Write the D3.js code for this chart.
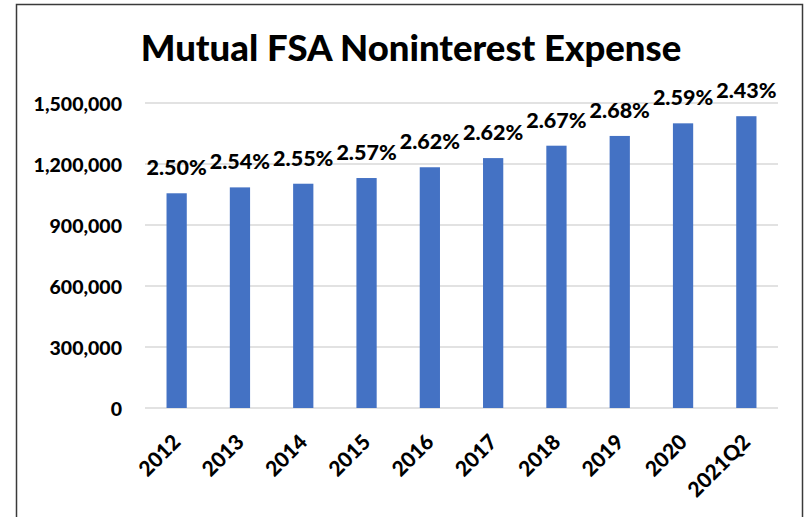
<!DOCTYPE html>
<html>
<head>
<meta charset="utf-8">
<script src="https://cdn.jsdelivr.net/npm/d3@7"></script>
<style>
  body { margin: 0; background: #fff; }
  text { font-family: Lato, 'Open Sans', sans-serif; font-weight: 900; fill: #000; }
</style>
</head>
<body>
<div class="chart"></div>
<script>
const years = ['2012', '2013', '2014', '2015', '2016', '2017', '2018', '2019', '2020', '2021Q2']
const expense = [1056000, 1085000, 1103000, 1131000, 1184000, 1229000, 1290000, 1338000, 1400000, 1435000]
const ratio = ['2.50%', '2.54%', '2.55%', '2.57%', '2.62%', '2.62%', '2.67%', '2.68%', '2.59%', '2.43%']
const yTicks = [0, 300000, 600000, 900000, 1200000, 1500000]

const W = 808, H = 517
const margin = ({ top: 103, right: 30, bottom: 109, left: 145 })
const width = 778 - margin.left
const height = 408 - margin.top

const root = d3.select('.chart')
    .append('svg')
    .attr('width', W)
    .attr('height', H)

// outer frame
root.append('rect')
    .attr('x', 16.5)
    .attr('y', 4.5)
    .attr('width', 786)
    .attr('height', 530)
    .attr('fill', 'none')
    .attr('stroke', '#3a3a3a')
    .attr('stroke-width', 1.5)

root.append('text')
    .attr('x', 411)
    .attr('y', 61)
    .attr('text-anchor', 'middle')
    .style('font-size', '36.5px')
    .text('Mutual FSA Noninterest Expense')

const svg = root.append('g')
    .attr('transform', 'translate(' + margin.left + ',' + margin.top + ')')

const xScale = d3.scaleBand()
    .domain(years)
    .range([0, width])
    .paddingInner(0.68)
    .paddingOuter(0.34)

const yScale = d3.scaleLinear()
    .domain([0, 1500000])
    .range([height, 0])

// gridlines
svg.append('g')
    .selectAll('line')
    .data(yTicks)
    .enter()
    .append('line')
    .attr('x1', 0)
    .attr('x2', width)
    .attr('y1', d => yScale(d))
    .attr('y2', d => yScale(d))
    .attr('stroke', '#d9d9d9')
    .attr('stroke-width', 1.5)

// y axis labels
const yAxis = d3.axisLeft(yScale)
    .tickValues(yTicks)
    .tickFormat(d3.format(','))
    .tickSize(0)
    .tickPadding(23)

svg.append('g')
    .attr('class', 'axis y-axis')
    .call(yAxis)
    .call(g => g.select('.domain').remove())
    .selectAll('text')
    .style('font-size', '19.5px')
    .attr('dy', '0.36em')

// bars
svg.selectAll('rect.bar')
    .data(years)
    .enter()
    .append('rect')
    .attr('class', 'bar')
    .attr('fill', '#4472c4')
    .attr('x', (d, i) => xScale(d))
    .attr('y', (d, i) => yScale(expense[i]))
    .attr('width', xScale.bandwidth())
    .attr('height', (d, i) => height - yScale(expense[i]))

// data labels
svg.selectAll('text.label')
    .data(years)
    .enter()
    .append('text')
    .attr('class', 'label')
    .attr('x', d => xScale(d) + xScale.bandwidth() / 2)
    .attr('y', (d, i) => yScale(expense[i]) - 18)
    .attr('text-anchor', 'middle')
    .style('font-size', '21.5px')
    .text((d, i) => ratio[i])

// x axis labels, rotated
svg.append('g')
    .attr('class', 'axis x-axis')
    .selectAll('text')
    .data(years)
    .enter()
    .append('text')
    .attr('transform', d => `translate(${xScale(d) + xScale.bandwidth() / 2}, ${height + 30}) rotate(-45)`)
    .attr('text-anchor', 'end')
    .attr('dy', '0.36em')
    .style('font-size', '21px')
    .text(d => d)
</script>
</body>
</html>
